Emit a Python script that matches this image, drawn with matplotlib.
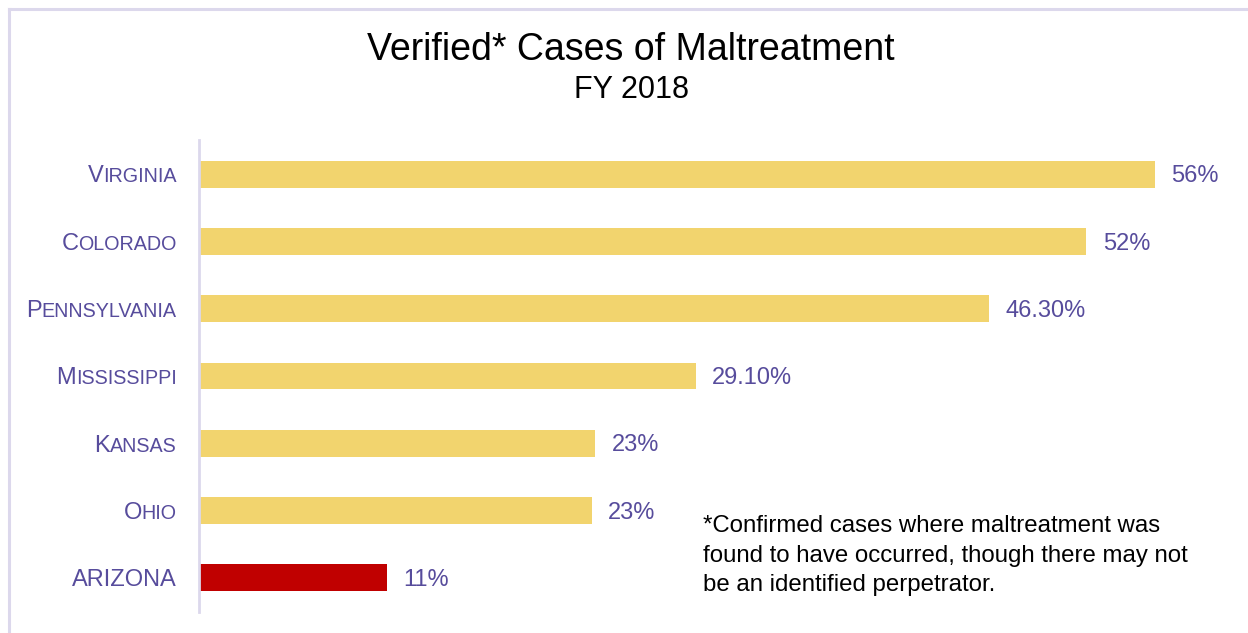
import matplotlib
matplotlib.use("Agg")
import matplotlib.pyplot as plt
from matplotlib.lines import Line2D

states = ["Virginia", "Colorado", "Pennsylvania", "Mississippi", "Kansas", "Ohio", "ARIZONA"]
values = [56, 52, 46.3, 29.1, 23.2, 23, 11]
value_labels = ["56%", "52%", "46.30%", "29.10%", "23%", "23%", "11%"]
highlight = "ARIZONA"

title = "Verified* Cases of Maltreatment"
subtitle = "FY 2018"
footnote = ("*Confirmed cases where maltreatment was\n"
            "found to have occurred, though there may not\n"
            "be an identified perpetrator.")

YELLOW = "#f2d46e"
RED = "#c00000"
PURPLE = "#574c9c"
FRAME = "#dcd8ec"

plt.rcParams["font.family"] = ["Liberation Sans", "DejaVu Sans"]

fig = plt.figure(figsize=(12.48, 6.33), dpi=100)
ax = fig.add_axes([199 / 1248, 21.5 / 633, 1024 / 1248, 471 / 633])

ypos = list(range(len(states)))
colors = [RED if s == highlight else YELLOW for s in states]
ax.barh(ypos, values, height=0.4, color=colors)
ax.set_ylim(len(states) - 0.5, -0.5)
ax.set_xlim(0, 60)

for y, v, lab in zip(ypos, values, value_labels):
    ax.annotate(lab, xy=(v, y), xytext=(12, -1.5), textcoords="offset points",
                va="center", ha="left", fontsize=17, color=PURPLE)

for side in ["top", "right", "bottom"]:
    ax.spines[side].set_visible(False)
ax.spines["left"].set_color(FRAME)
ax.spines["left"].set_linewidth(2)
ax.set_xticks([])
ax.set_yticks([])

# small-caps category labels, built right to left
fig.canvas.draw()
r = fig.canvas.get_renderer()
big, small = 17, 14.2
for y, name in zip(ypos, states):
    runs = []
    for ch in name:
        up = ch.isupper() or not ch.isalpha()
        if runs and runs[-1][1] == up:
            runs[-1][0] += ch
        else:
            runs.append([ch, up])
    off = 16
    for txt, up in reversed(runs):
        t = ax.annotate(txt.upper(), xy=(0, y), xycoords=("axes fraction", "data"),
                        xytext=(-off, -6), textcoords="offset points",
                        ha="right", va="baseline", color=PURPLE,
                        fontsize=big if up else small)
        off += t.get_window_extent(r).width * 72 / fig.dpi

fig.text(631 / 1248, 1 - 50 / 633, title, ha="center", va="center", fontsize=27, color="black")
fig.text(631 / 1248, 1 - 90 / 633, subtitle, ha="center", va="center", fontsize=22, color="black")
fig.text(703 / 1248, 1 - 515 / 633, footnote, ha="left", va="top", fontsize=17.3,
         color="black", linespacing=1.45)

fig.add_artist(Line2D([8.5 / 1248, 1], [1 - 8.5 / 633] * 2, color=FRAME, lw=2.2))
fig.add_artist(Line2D([8.5 / 1248] * 2, [0, 1 - 8.5 / 633], color=FRAME, lw=2.2))

fig.savefig("out.png", dpi=100)
